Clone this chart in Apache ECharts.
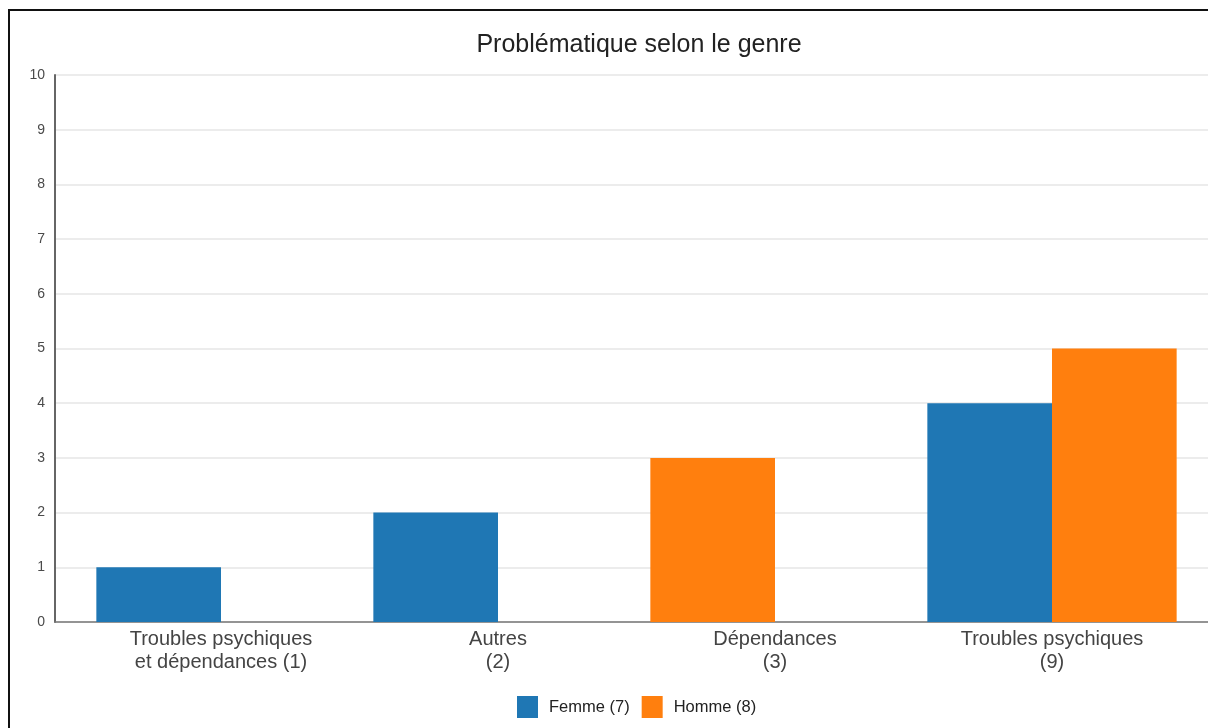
<!DOCTYPE html>
<html>
<head>
<meta charset="utf-8">
<script src="https://cdn.jsdelivr.net/npm/echarts@6/dist/echarts.min.js"></script>
<style>
  html, body { margin: 0; padding: 0; background: #fff; }
  #chart { position: absolute; left: 0; top: 0; width: 1208px; height: 728px; }
  #frame { position: absolute; left: 8px; top: 9px; width: 1300px; height: 800px;
           border-left: 2px solid #111; border-top: 2px solid #111; pointer-events: none; }
</style>
</head>
<body>
<div id="chart"></div>
<div id="frame"></div>
<script>
// données
var categories = ['Troubles psychiques\net dépendances (1)', 'Autres\n(2)', 'Dépendances\n(3)', 'Troubles psychiques\n(9)'];
var femme = [1, 2, 0, 4];
var homme = [0, 0, 3, 5];
var seriesNames = ['Femme (7)', 'Homme (8)'];
var seriesColors = ['#1f77b4', '#ff7f0e'];
var yTicks = [0, 1, 2, 3, 4, 5, 6, 7, 8, 9, 10];

var FONT = 'Arial, "Liberation Sans", sans-serif';

// comme dans l'original : les valeurs nulles ne prennent pas de place,
// les barres présentes sont tassées à gauche dans chaque groupe
var slots = [[], []];
categories.forEach(function(c, i) {
    var bars = [];
    if (femme[i]) bars.push({ value: femme[i], name: seriesNames[0], itemStyle: { color: seriesColors[0] } });
    if (homme[i]) bars.push({ value: homme[i], name: seriesNames[1], itemStyle: { color: seriesColors[1] } });
    slots[0].push(bars[0] || null);
    slots[1].push(bars[1] || null);
});

var chart = echarts.init(document.getElementById('chart'));

var option = {
    animation: false,
    textStyle: { fontFamily: FONT },
    title: {
        text: 'Problématique selon le genre',
        left: 634,
        top: 28,
        textAlign: 'center',
        textStyle: { fontFamily: FONT, fontSize: 25, fontWeight: 'normal', color: '#222' }
    },
    legend: {
        data: seriesNames,
        left: 512,
        top: 691,
        itemWidth: 21,
        itemHeight: 22,
        itemGap: 12,
        icon: 'rect',
        textStyle: { fontFamily: FONT, fontSize: 16.5, color: '#222', padding: [0, 0, 0, 6] }
    },
    grid: [
        // cadre : axes et lignes de grille
        { left: 55, right: 0, top: 75, bottom: 106 },
        // zone des barres
        { left: 82.5, right: 17.5, top: 75, bottom: 106 }
    ],
    xAxis: [
        {
            gridIndex: 0, type: 'category', data: [''],
            axisLine: { lineStyle: { color: '#777', width: 1.5 } },
            axisTick: { show: false }, axisLabel: { show: false }
        },
        {
            gridIndex: 1, type: 'category', data: categories,
            axisLine: { show: false }, axisTick: { show: false },
            axisLabel: { fontFamily: FONT, fontSize: 20, color: '#444', lineHeight: 23, margin: 6, interval: 0 }
        }
    ],
    yAxis: [
        {
            gridIndex: 0, type: 'value', min: yTicks[0], max: yTicks[yTicks.length - 1], interval: 1,
            axisLine: { show: true, lineStyle: { color: '#666', width: 2 } },
            axisTick: { show: false },
            axisLabel: { fontFamily: FONT, fontSize: 14, color: '#4a4a4a', margin: 10 },
            splitLine: { lineStyle: { color: '#e6e6e6', width: 1.5 } }
        },
        {
            gridIndex: 1, type: 'value', min: 0, max: 10, interval: 1, show: false,
            splitLine: { show: false }
        }
    ],
    series: [
        // séries vides pour la légende (sur la grille du cadre)
        { name: seriesNames[0], type: 'bar', xAxisIndex: 0, yAxisIndex: 0, data: [], itemStyle: { color: seriesColors[0] } },
        { name: seriesNames[1], type: 'bar', xAxisIndex: 0, yAxisIndex: 0, data: [], itemStyle: { color: seriesColors[1] } },
        {
            name: 'slot1', type: 'bar', xAxisIndex: 1, yAxisIndex: 1,
            data: slots[0], barGap: '0%', barCategoryGap: '10%'
        },
        {
            name: 'slot2', type: 'bar', xAxisIndex: 1, yAxisIndex: 1,
            data: slots[1], barGap: '0%', barCategoryGap: '10%'
        }
    ]
};

chart.setOption(option);
window.onresize = function() { chart.resize(); };
</script>
</body>
</html>
